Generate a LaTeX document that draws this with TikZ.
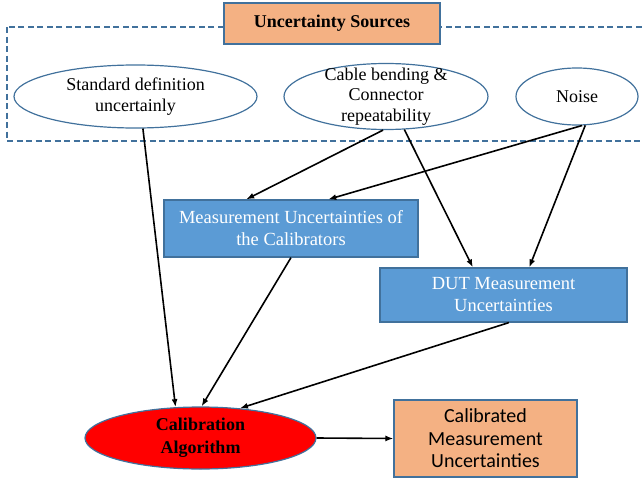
\documentclass[tikz,border=0pt]{standalone}
\usepackage{fontspec}
\setmainfont{Liberation Serif}
\newfontfamily\calibri{Carlito}
\usetikzlibrary{arrows.meta,shapes.geometric}
\definecolor{salmon}{HTML}{F4B183}
\definecolor{boxblue}{HTML}{5B9BD5}
\definecolor{edgeblue}{HTML}{41719C}
\tikzset{
  % node styles (sources, uncertainty boxes, algorithm)
  % ellipse text goes in a centred label, so the ellipse keeps its size
  srcbox/.style={rectangle,draw=edgeblue,fill=salmon,line width=1.2pt,inner sep=0pt,align=center},
  source/.style={ellipse,draw=edgeblue,line width=1.2pt,inner sep=0pt},
  srctext/.style={align=center,inner sep=0pt,font=\fontsize{18}{20.5}\selectfont},
  uncbox/.style={rectangle,draw=edgeblue,fill=boxblue,line width=1.2pt,inner sep=0pt,align=center,
    text=white,font=\fontsize{18.5}{22}\selectfont},
  algo/.style={ellipse,draw=edgeblue,fill=red,line width=1.2pt,inner sep=0pt,align=center,
    font=\bfseries\fontsize{18}{23}\selectfont},
  % connector styles
  flow/.style={-{Latex[length=8pt,width=6pt]},line width=1.6pt},
  group/.style={draw=edgeblue,line width=1.8pt,dash pattern=on 6pt off 3.5pt},
}
\begin{document}
\begin{tikzpicture}[x=1pt,y=-1pt]
  \useasboundingbox (0,0) rectangle (643,479);
  % group of sources
  \draw[group] (7,27) rectangle (652,141);
  \node[srcbox,minimum width=216pt,minimum height=41pt,font=\bfseries\fontsize{18}{21}\selectfont]
    (title) at (332,23.5) {Uncertainty Sources};
  \node[source,minimum width=243pt,minimum height=63pt,
    label={[srctext]center:Standard definition\\uncertainly}] (stddef) at (135.5,96.5) {};
  \node[source,minimum width=204pt,minimum height=66pt,
    label={[srctext]center:Cable bending \&\\Connector\\repeatability}] (cable) at (386,96.5) {};
  \node[source,minimum width=122pt,minimum height=57pt,
    label={[srctext]center:Noise}] (noise) at (577,96.5) {};
  % uncertainties
  \node[uncbox,minimum width=254pt,minimum height=57pt] (calunc) at (291,228.5)
    {Measurement Uncertainties of\\the Calibrators};
  \node[uncbox,minimum width=247pt,minimum height=54pt] (dutunc) at (503.5,295)
    {DUT Measurement\\Uncertainties};
  \node[algo,minimum width=231pt,minimum height=62pt] (algo) at (200.5,438)
    {Calibration\\Algorithm};
  \node[srcbox,minimum width=183pt,minimum height=77pt,font=\calibri\fontsize{20}{22.5}\selectfont]
    (result) at (485.5,438.5) {Calibrated\\Measurement\\Uncertainties};
  % connectors
  \draw[flow] (stddef.283) -- (algo.129.6);
  \draw[flow] (cable.265) -- (calunc.147);
  \draw[flow] (cable.299) -- (dutunc.138.5);
  \draw[flow] (noise.280) -- (calunc.38.4);
  \draw[flow] (noise.286) -- (dutunc.47.8);
  \draw[flow] (calunc.south) -- (algo.88);
  \draw[flow] (dutunc.281.5) -- (algo.37.9);
  \draw[flow] (algo.east) -- (result.west);
\end{tikzpicture}
\end{document}
